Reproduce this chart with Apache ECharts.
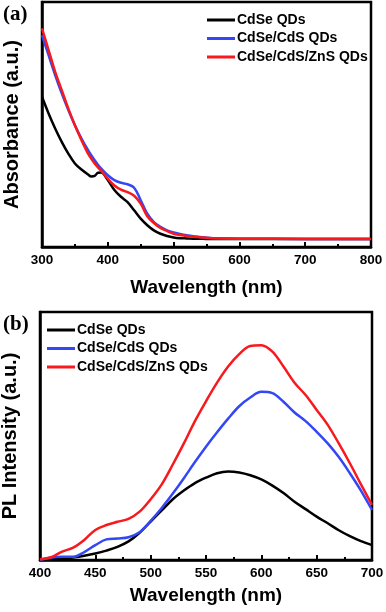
<!DOCTYPE html>
<html>
<head>
<meta charset="utf-8">
<script src="https://cdn.jsdelivr.net/npm/echarts@6/dist/echarts.min.js"></script>
<style>
    html, body { margin: 0; padding: 0; background: #fff; }
    #chart { width: 386px; height: 612px; }
</style>
</head>
<body>
<div id="chart"></div>
<script>
    // (a) absorption spectra
    const absWavelength = [300, 310, 320, 330, 340, 350, 360, 370, 375, 380, 385, 390, 400, 410, 420, 430, 440, 450, 460, 470, 480, 490, 500, 510, 520, 530, 540, 550, 560, 600, 700, 800];
    const absCdSe = [61.3, 54.5, 48.4, 42.9, 38.1, 34.1, 31.6, 29.6, 28.8, 29.0, 30.3, 30.4, 27.3, 23.3, 20.5, 18.3, 15.0, 11.6, 8.9, 6.8, 5.4, 4.5, 3.9, 3.6, 3.5, 3.4, 3.35, 3.3, 3.3, 3.3, 3.3, 3.3];
    const absCdSeCdS = [86.5, 78.3, 70.2, 62.7, 55.9, 49.7, 44.3, 39.5, 37.4, 35.4, 33.6, 32.0, 29.3, 27.3, 26.2, 25.6, 24.2, 19.1, 13.6, 10.2, 8.2, 6.8, 5.9, 5.3, 4.8, 4.4, 4.1, 3.8, 3.6, 3.4, 3.3, 3.3];
    const absCdSeCdSZnS = [89.2, 80.4, 71.5, 64.0, 56.5, 49.7, 43.6, 38.1, 36.0, 34.1, 32.5, 31.1, 27.9, 25.1, 23.4, 22.4, 20.9, 17.7, 12.5, 9.8, 7.8, 6.5, 5.4, 4.9, 4.5, 4.2, 4.0, 3.8, 3.6, 3.4, 3.3, 3.3];

    // (b) PL spectra
    const plWavelength = [400, 410, 420, 430, 440, 450, 460, 470, 480, 490, 500, 510, 520, 530, 540, 550, 560, 570, 580, 590, 600, 610, 620, 630, 640, 650, 660, 670, 680, 690, 700];
    const plCdSe = [0, 0.2, 0.5, 1.0, 1.7, 2.6, 3.8, 5.3, 7.5, 11.0, 15.5, 20.0, 24.5, 28.0, 31.0, 33.2, 35.0, 35.7, 35.3, 34.2, 32.5, 30.0, 27.0, 23.5, 20.5, 17.5, 14.8, 12.0, 9.6, 7.6, 6.0];
    const plCdSeCdS = [0, 1.0, 1.3, 1.3, 3.2, 6.0, 8.3, 8.7, 9.2, 11.2, 15.8, 21.0, 26.8, 33.0, 39.5, 45.7, 51.5, 57.0, 62.0, 65.5, 67.8, 67.3, 63.8, 59.5, 56.0, 51.7, 47.0, 41.5, 35.0, 28.0, 20.2];
    const plCdSeCdSZnS = [0.3, 1.1, 3.4, 5.0, 8.1, 12.1, 14.1, 15.4, 16.6, 19.5, 24.5, 30.5, 38.5, 47.0, 56.0, 64.0, 71.5, 78.0, 83.0, 86.3, 86.6, 84.0, 78.0, 71.5, 66.5, 60.5, 54.5, 47.0, 39.0, 30.5, 22.2];

    const seriesNames = ['CdSe QDs', 'CdSe/CdS QDs', 'CdSe/CdS/ZnS QDs'];
    const colors = ['#000000', '#3347f5', '#f7191e'];

    const chart = echarts.init(document.getElementById('chart'));

    const boldFont = {
        fontFamily: 'Liberation Sans, Arial, sans-serif',
        fontWeight: 'bold',
        color: '#000'
    };

    function pairs(xs, ys) {
        return xs.map((x, i) => [x, ys[i]]);
    }

    function xAxisFor(gridIndex, min, max, interval) {
        return {
            gridIndex: gridIndex,
            type: 'value',
            position: 'bottom',
            min: min,
            max: max,
            interval: interval,
            name: 'Wavelength (nm)',
            nameLocation: 'middle',
            nameGap: gridIndex === 0 ? 31 : 26,
            nameTextStyle: Object.assign({ fontSize: 19 }, boldFont),
            axisLine: { show: true, onZero: false, lineStyle: { color: '#000', width: 2.5 } },
            axisTick: { show: true, inside: true, length: 5, lineStyle: { color: '#000', width: 2 } },
            axisLabel: Object.assign({ fontSize: 13.5, margin: 6 }, boldFont),
            splitLine: { show: false }
        };
    }

    // second axis on the same grid, only for the half-step ticks
    function minorAxisFor(gridIndex, min, max, interval) {
        return {
            gridIndex: gridIndex,
            type: 'value',
            position: 'bottom',
            min: min,
            max: max,
            interval: interval,
            axisLine: { show: false, onZero: false },
            axisTick: { show: true, inside: true, length: 3, lineStyle: { color: '#000', width: 2 } },
            axisLabel: { show: false },
            splitLine: { show: false }
        };
    }

    function yAxisFor(gridIndex, title) {
        return {
            gridIndex: gridIndex,
            type: 'value',
            min: 0,
            max: 100,
            name: title,
            nameLocation: 'middle',
            nameGap: 20,
            nameTextStyle: Object.assign({ fontSize: 20 }, boldFont),
            axisLine: { show: true, onZero: false, lineStyle: { color: '#000', width: 2.5 } },
            axisTick: { show: false },
            axisLabel: { show: false },
            splitLine: { show: false }
        };
    }

    function lineSeries(name, idx, data) {
        return {
            name: name,
            type: 'line',
            xAxisIndex: idx,
            yAxisIndex: idx,
            data: data,
            smooth: 0.35,
            symbol: 'none',
            lineStyle: { width: 2.5 },
            z: 3
        };
    }

    function legendFor(left, top) {
        return {
            orient: 'vertical',
            left: left,
            top: top,
            icon: 'rect',
            itemWidth: 28,
            itemHeight: 3,
            itemGap: 0.5,
            data: seriesNames,
            textStyle: Object.assign({ fontSize: 14, lineHeight: 18, padding: [0, 0, 0, -3] }, boldFont)
        };
    }

    const option = {
        animation: false,
        color: colors,
        grid: [
            { left: 42, top: 2, width: 329, height: 245, outerBoundsMode: 'none', show: true, borderColor: '#000', borderWidth: 2.5, backgroundColor: 'transparent' },
            { left: 40, top: 312, width: 332, height: 248, outerBoundsMode: 'none', show: true, borderColor: '#000', borderWidth: 2.5, backgroundColor: 'transparent' }
        ],
        legend: [legendFor(202, 6), legendFor(42, 316)],
        xAxis: [
            xAxisFor(0, 300, 800, 100),
            xAxisFor(1, 400, 700, 50),
            minorAxisFor(0, 300, 800, 50),
            minorAxisFor(1, 400, 700, 25)
        ],
        yAxis: [yAxisFor(0, 'Absorbance (a.u.)'), yAxisFor(1, 'PL Intensity (a.u.)')],
        graphic: [
            { type: 'text', left: 3, top: 4, style: { text: '(a)', font: 'bold 21px "Liberation Serif", serif', fill: '#000' } },
            { type: 'text', left: 3, top: 314, style: { text: '(b)', font: 'bold 21px "Liberation Serif", serif', fill: '#000' } }
        ],
        series: [
            lineSeries(seriesNames[0], 0, pairs(absWavelength, absCdSe)),
            lineSeries(seriesNames[1], 0, pairs(absWavelength, absCdSeCdS)),
            lineSeries(seriesNames[2], 0, pairs(absWavelength, absCdSeCdSZnS)),
            lineSeries(seriesNames[0], 1, pairs(plWavelength, plCdSe)),
            lineSeries(seriesNames[1], 1, pairs(plWavelength, plCdSeCdS)),
            lineSeries(seriesNames[2], 1, pairs(plWavelength, plCdSeCdSZnS))
        ]
    };
    chart.setOption(option);
</script>
</body>
</html>
